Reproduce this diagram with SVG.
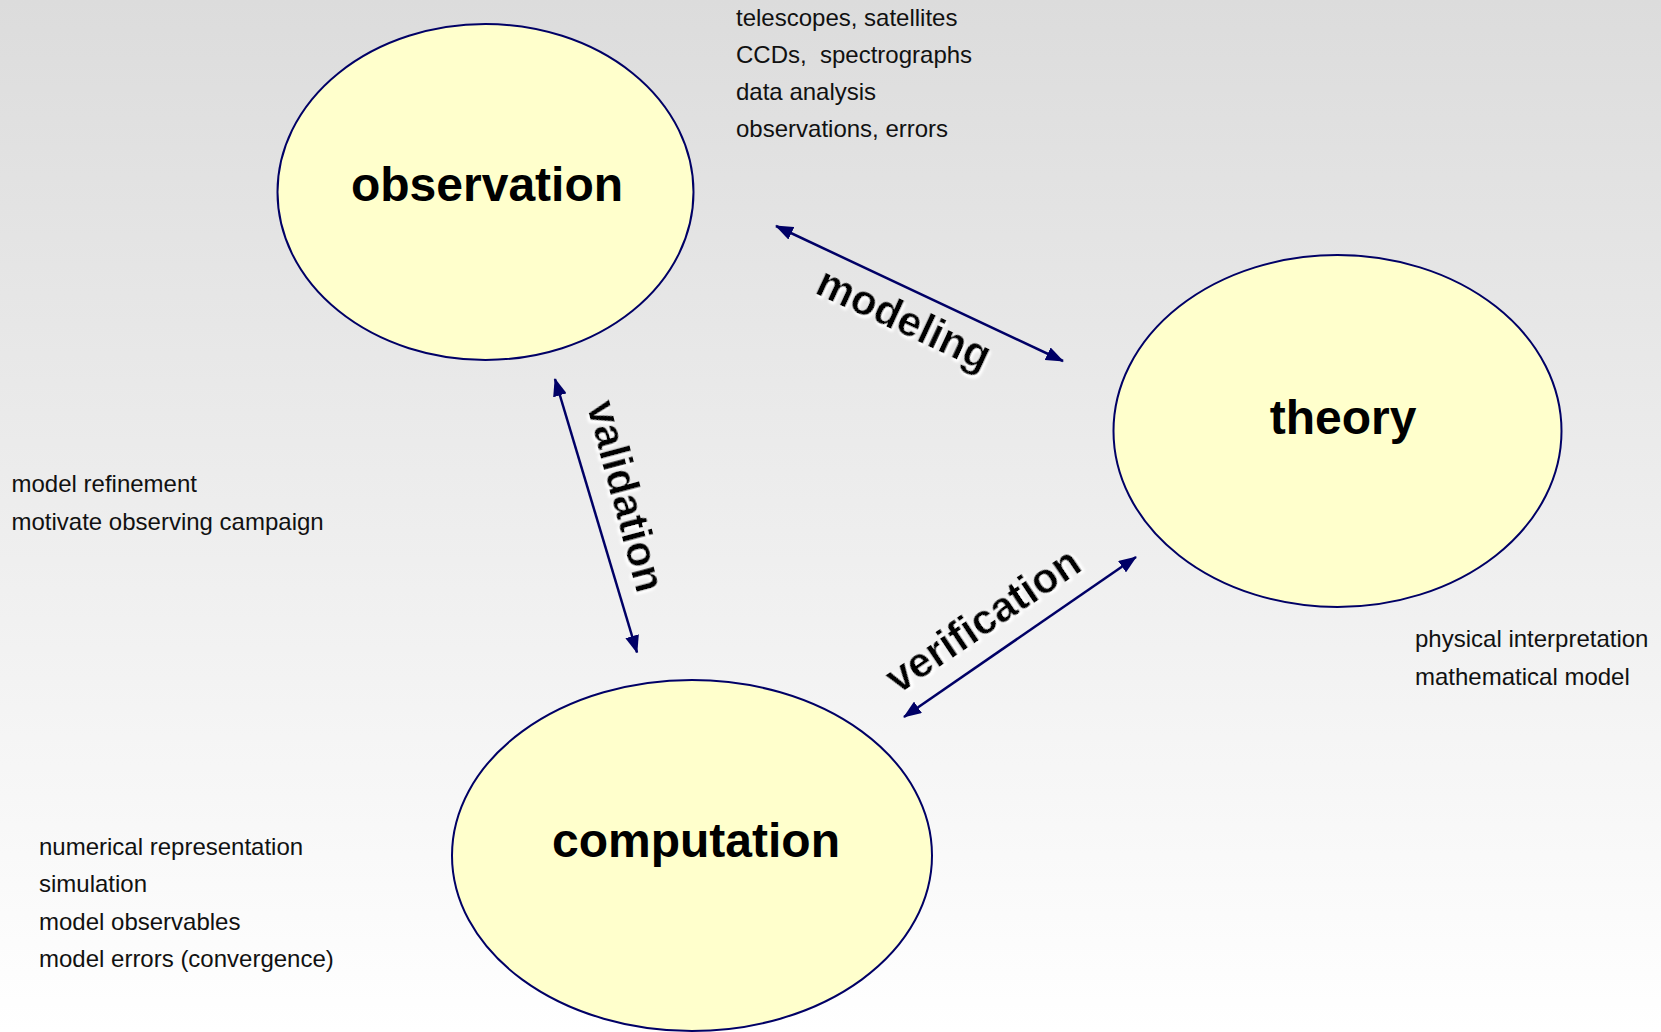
<svg xmlns="http://www.w3.org/2000/svg" width="1661" height="1032" viewBox="0 0 1661 1032">
  <defs>
    <linearGradient id="bg" x1="0" y1="0" x2="0" y2="1">
      <stop offset="0" stop-color="#dcdcdc"/>
      <stop offset="1" stop-color="#ffffff"/>
    </linearGradient>
    <marker id="ah" viewBox="0 0 18 14" refX="17" refY="7" markerWidth="18" markerHeight="14" markerUnits="userSpaceOnUse" orient="auto-start-reverse">
      <path d="M0,0 L18,7 L0,14 z" fill="#000066"/>
    </marker>
    <filter id="halo" x="-10%" y="-30%" width="120%" height="160%">
      <feOffset in="SourceAlpha" dx="2" dy="2" result="o"/>
      <feGaussianBlur in="o" stdDeviation="1.6" result="b"/>
      <feFlood flood-color="#ffffff"/>
      <feComposite in2="b" operator="in" result="w"/>
      <feMerge>
        <feMergeNode in="w"/>
        <feMergeNode in="w"/>
        <feMergeNode in="SourceGraphic"/>
      </feMerge>
    </filter>
    <style>
      .node { fill: #ffffcc; stroke: #000066; stroke-width: 2; }
      .title { font-family: "Liberation Sans", Arial, sans-serif; font-weight: bold; font-size: 48px; fill: #000; text-anchor: middle; }
      .note { font-family: "Liberation Sans", Arial, sans-serif; font-size: 24px; fill: #111; }
      .edge { stroke: #000066; stroke-width: 2.5; fill: none; marker-start: url(#ah); marker-end: url(#ah); }
      .elabel { font-family: "Liberation Sans", Arial, sans-serif; font-weight: bold; font-size: 42px; fill: #000; text-anchor: middle; filter: url(#halo); }
    </style>
  </defs>

  <rect x="0" y="0" width="1661" height="1032" fill="url(#bg)"/>

  <g id="node-observation">
    <ellipse class="node" cx="485.5" cy="192" rx="208" ry="168"/>
    <text class="title" x="487" y="201">observation</text>
  </g>
  <g id="node-theory">
    <ellipse class="node" cx="1337.5" cy="431" rx="224" ry="176"/>
    <text class="title" x="1343" y="434">theory</text>
  </g>
  <g id="node-computation">
    <ellipse class="node" cx="692" cy="855.5" rx="240" ry="175.5"/>
    <text class="title" x="696" y="857">computation</text>
  </g>

  <g id="notes-observation">
    <text class="note" x="736" y="26">telescopes, satellites</text>
    <text class="note" x="736" y="63" xml:space="preserve">CCDs,  spectrographs</text>
    <text class="note" x="736" y="100">data analysis</text>
    <text class="note" x="736" y="137">observations, errors</text>
  </g>
  <g id="notes-validation">
    <text class="note" x="11.5" y="492">model refinement</text>
    <text class="note" x="11.5" y="530">motivate observing campaign</text>
  </g>
  <g id="notes-theory">
    <text class="note" x="1415" y="647">physical interpretation</text>
    <text class="note" x="1415" y="685">mathematical model</text>
  </g>
  <g id="notes-computation">
    <text class="note" x="39" y="855">numerical representation</text>
    <text class="note" x="39" y="892">simulation</text>
    <text class="note" x="39" y="930">model observables</text>
    <text class="note" x="39" y="967">model errors (convergence)</text>
  </g>

  <g id="connectors">
    <line class="edge" x1="776" y1="226" x2="1063" y2="361"/>
    <line class="edge" x1="555" y1="379" x2="637" y2="652.5"/>
    <line class="edge" x1="904" y1="717" x2="1136" y2="557"/>
    <text class="elabel" transform="translate(898,332) rotate(25)">modeling</text>
    <text class="elabel" transform="translate(612,500) rotate(75)">validation</text>
    <text class="elabel" transform="translate(991,632) rotate(-34)">verification</text>
  </g>
</svg>
